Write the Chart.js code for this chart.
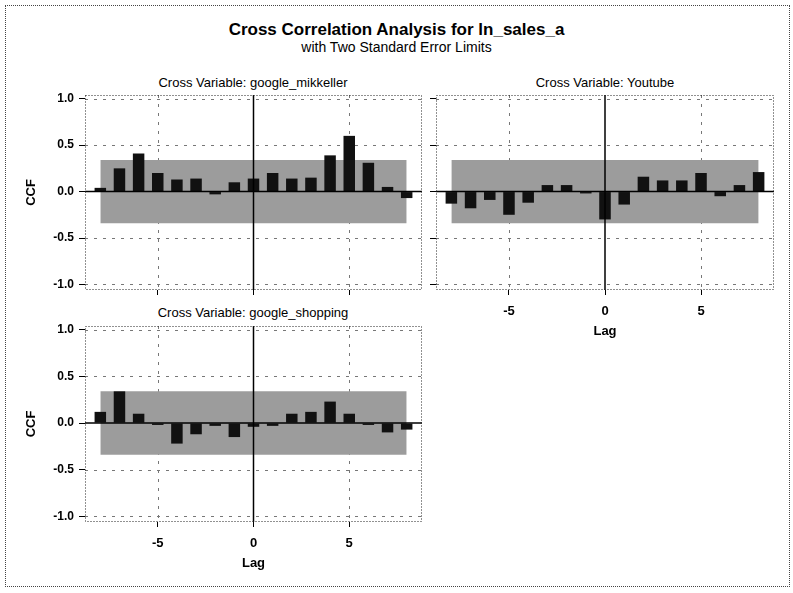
<!DOCTYPE html>
<html>
<head>
<meta charset="utf-8">
<script src="https://cdn.jsdelivr.net/npm/chart.js@4.4.0/dist/chart.umd.min.js"></script>
<style>
    body { margin: 0; background: #fff; font-family: "Liberation Sans", Arial, sans-serif; }
    #page { position: relative; width: 793px; height: 593px; overflow: hidden; }
    .frame { position: absolute; left: 5px; top: 5px; width: 783px; height: 580px; border: 1px dotted #444; }
    .txt { position: absolute; text-align: center; white-space: nowrap; color: #000; }
    canvas.panel { position: absolute; }
</style>
</head>
<body>
<div id="page">
    <div class="frame"></div>
    <div class="txt" style="left:0;width:793px;top:20px;font-size:17px;font-weight:bold;">Cross Correlation Analysis for ln_sales_a</div>
    <div class="txt" style="left:0;width:793px;top:39px;font-size:14px;">with Two Standard Error Limits</div>
    <div class="txt" style="left:103px;width:300px;top:75px;font-size:13px;">Cross Variable: google_mikkeller</div>
    <div class="txt" style="left:455px;width:300px;top:75px;font-size:13px;">Cross Variable: Youtube</div>
    <div class="txt" style="left:103px;width:300px;top:305px;font-size:13px;">Cross Variable: google_shopping</div>

    <canvas id="ccfMikkeller" class="panel" width="407" height="206" style="left:20px;top:90px;"></canvas>
    <canvas id="ccfYoutube" class="panel" width="353" height="252" style="left:426px;top:90px;"></canvas>
    <canvas id="ccfShopping" class="panel" width="407" height="253" style="left:20px;top:321px;"></canvas>
</div>

<script>
// lags shown on every panel
const lags = [-8, -7, -6, -5, -4, -3, -2, -1, 0, 1, 2, 3, 4, 5, 6, 7, 8];

// cross correlations
const mikkellerCcf = [0.04, 0.25, 0.41, 0.20, 0.13, 0.14, -0.03, 0.10, 0.14, 0.20, 0.14, 0.15, 0.39, 0.60, 0.31, 0.05, -0.07];
const youtubeCcf   = [-0.13, -0.18, -0.09, -0.25, -0.12, 0.07, 0.07, -0.02, -0.30, -0.14, 0.16, 0.12, 0.12, 0.20, -0.05, 0.07, 0.21];
const shoppingCcf  = [0.12, 0.34, 0.10, -0.02, -0.22, -0.12, -0.03, -0.15, -0.04, -0.03, 0.10, 0.12, 0.23, 0.10, -0.02, -0.10, -0.07];

// two standard error limits (band ends)
const limitLags = [-8, 8];
const upperLimit = [0.34, 0.34];
const lowerLimit = [-0.34, -0.34];

// axis ticks
const yTicks = [-1, -0.5, 0, 0.5, 1];
const xTicks = [-5, 0, 5];
const refY = [-1, -0.5, 0.5, 1];
const refX = [-5, 5];

const FONT = '"Liberation Sans", Arial, sans-serif';

const panelDecor = {
    id: 'panelDecor',
    beforeDatasetsDraw(chart) {
        const { ctx, chartArea: a, scales: { x, y } } = chart;
        ctx.save();
        ctx.strokeStyle = '#777';
        ctx.lineWidth = 1;
        ctx.setLineDash([3, 6]);
        refY.forEach(function(v) {
            const py = Math.round(y.getPixelForValue(v)) + 0.5;
            ctx.beginPath(); ctx.moveTo(a.left, py); ctx.lineTo(a.right, py); ctx.stroke();
        });
        refX.forEach(function(v) {
            const px = Math.round(x.getPixelForValue(v)) + 0.5;
            ctx.beginPath(); ctx.moveTo(px, a.top); ctx.lineTo(px, a.bottom); ctx.stroke();
        });
        ctx.restore();
    },
    afterDatasetsDraw(chart) {
        const { ctx, chartArea: a, scales: { x, y } } = chart;
        ctx.save();
        ctx.strokeStyle = '#000';
        ctx.lineWidth = 1.5;
        const py = y.getPixelForValue(0);
        ctx.beginPath(); ctx.moveTo(a.left, py); ctx.lineTo(a.right, py); ctx.stroke();
        const px = x.getPixelForValue(0);
        ctx.beginPath(); ctx.moveTo(px, a.top); ctx.lineTo(px, a.bottom); ctx.stroke();
        // dotted box round the plot
        ctx.strokeStyle = '#222';
        ctx.lineWidth = 1;
        ctx.setLineDash([1, 2]);
        ctx.strokeRect(a.left + 0.5, a.top + 0.5, a.right - a.left - 1, a.bottom - a.top - 1);
        ctx.restore();
    }
};

function makePanel(id, values, showY, showX) {
    const ctx = document.getElementById(id);
    return new Chart(ctx, {
        type: 'bar',
        data: {
            datasets: [{
                type: 'line',
                data: limitLags.map((l, i) => ({ x: l, y: upperLimit[i] })),
                borderWidth: 0,
                pointRadius: 0,
                fill: false,
                order: 3
            }, {
                type: 'line',
                data: limitLags.map((l, i) => ({ x: l, y: lowerLimit[i] })),
                borderWidth: 0,
                pointRadius: 0,
                fill: '-1',
                backgroundColor: '#9c9c9c',
                order: 3
            }, {
                type: 'bar',
                data: lags.map((l, i) => ({ x: l, y: values[i] })),
                backgroundColor: '#111',
                barPercentage: 0.6,
                categoryPercentage: 1,
                order: 1
            }]
        },
        options: {
            responsive: false,
            animation: false,
            layout: { padding: { top: 5, right: 5, left: 0, bottom: 0 } },
            plugins: {
                legend: { display: false },
                tooltip: { enabled: false }
            },
            scales: {
                x: {
                    type: 'linear',
                    min: -8.8,
                    max: 8.8,
                    offset: false,
                    afterBuildTicks: function(s) { s.ticks = xTicks.map(v => ({ value: v })); },
                    afterFit: function(s) {
                        s.height = showX ? 52 : 6;
                        s.paddingLeft = 0;
                        s.paddingRight = 0;
                    },
                    ticks: {
                        display: showX,
                        color: '#000',
                        padding: 9,
                        maxRotation: 0,
                        font: { family: FONT, size: 13, weight: 'bold' },
                        callback: v => String(v)
                    },
                    grid: { offset: false, drawOnChartArea: false, drawTicks: true, tickLength: 5, color: '#000' },
                    border: { display: false },
                    title: {
                        display: showX,
                        text: 'Lag',
                        color: '#000',
                        font: { family: FONT, size: 13, weight: 'bold' },
                        padding: { top: 0, bottom: 3 }
                    }
                },
                y: {
                    type: 'linear',
                    min: -1.06,
                    max: 1.04,
                    afterBuildTicks: function(s) { s.ticks = yTicks.map(v => ({ value: v })); },
                    afterFit: function(s) {
                        s.width = showY ? 65 : 10;
                        s.paddingTop = 0;
                        s.paddingBottom = 0;
                    },
                    ticks: {
                        display: showY,
                        color: '#000',
                        padding: 5,
                        font: { family: FONT, size: 12, weight: 'bold' },
                        callback: v => Number(v).toFixed(1)
                    },
                    grid: { drawOnChartArea: false, drawTicks: true, tickLength: 6, color: '#000' },
                    border: { display: false },
                    title: {
                        display: showY,
                        text: 'CCF',
                        color: '#000',
                        font: { family: FONT, size: 13, weight: 'bold' },
                        padding: { top: 4, bottom: 0 }
                    }
                }
            }
        },
        plugins: [panelDecor]
    });
}

makePanel('ccfMikkeller', mikkellerCcf, true, false);
makePanel('ccfYoutube', youtubeCcf, false, true);
makePanel('ccfShopping', shoppingCcf, true, true);
</script>
</body>
</html>
